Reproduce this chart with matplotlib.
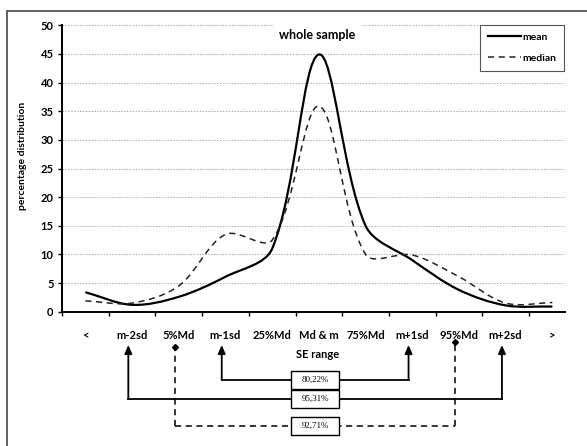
import matplotlib
matplotlib.use("Agg")
import matplotlib.pyplot as plt
import matplotlib.transforms as mtransforms
from matplotlib.path import Path
from matplotlib.patches import PathPatch, Rectangle
from matplotlib.lines import Line2D

# data -------------------------------------------------------
categories = ["<", "m-2sd", "5%Md", "m-1sd", "25%Md", "Md & m",
              "75%Md", "m+1sd", "95%Md", "m+2sd", ">"]
mean_vals = [3.4, 1.2, 2.6, 6.1, 11.0, 44.9, 15.0, 9.0, 3.8, 1.1, 0.9]
median_vals = [1.9, 1.5, 4.5, 13.5, 12.5, 35.9, 10.0, 9.9, 6.1, 1.5, 1.6]

# brackets: (left category, right category, label)
brackets = [("m-1sd", "m+1sd", "80,22%"),
            ("m-2sd", "m+2sd", "95,31%"),
            ("5%Md", "95%Md", "92,71%")]

W, H = 587, 446
plt.rcParams['font.family'] = ['Lato', 'DejaVu Sans']

# pixel size of one unit on each axis, used for the smoothing
SX, SY = 46.7, 5.73


def smooth_path(xs, ys):
    """Excel style smoothed line: bezier through every point, the handles
    shared out by the screen length of the two neighbouring segments"""
    n = len(xs)
    pts = [(x * SX, y * SY) for x, y in zip(xs, ys)]

    def dist(a, b):
        return ((a[0] - b[0]) ** 2 + (a[1] - b[1]) ** 2) ** 0.5

    before, after = [], []
    for i in range(n):
        p0 = pts[max(i - 1, 0)]
        p2 = pts[min(i + 1, n - 1)]
        d0 = dist(p0, pts[i])
        d2 = dist(pts[i], p2)
        tot = d0 + d2 if d0 + d2 > 0 else 1
        tx, ty = p2[0] - p0[0], p2[1] - p0[1]
        f = 1 / 3.0
        before.append((pts[i][0] - tx * f * d0 / tot, pts[i][1] - ty * f * d0 / tot))
        after.append((pts[i][0] + tx * f * d2 / tot, pts[i][1] + ty * f * d2 / tot))
    verts = [pts[0]]
    codes = [Path.MOVETO]
    for i in range(n - 1):
        verts += [after[i], before[i + 1], pts[i + 1]]
        codes += [Path.CURVE4] * 3
    verts = [(x / SX, y / SY) for x, y in verts]
    return Path(verts, codes)


def fy(ypix):
    return 1 - ypix / H


fig = plt.figure(figsize=(W / 100, H / 100), dpi=100)
ax = fig.add_axes([62 / W, fy(311.7), (565 - 62) / W, (311.7 - 25.3) / H])

xs = list(range(len(categories)))
ax.add_patch(PathPatch(smooth_path(xs, mean_vals), fc='none', ec='black', lw=1.6))
ax.add_patch(PathPatch(smooth_path(xs, median_vals), fc='none', ec='#222222',
                       lw=1.1, linestyle=(0, (4, 3))))

ax.set_xlim(-0.5, 10.27)
ax.set_ylim(0, 50)
ax.set_yticks(range(0, 51, 5))
ax.set_yticklabels([str(v) for v in range(0, 51, 5)], fontsize=8, fontweight='bold')
ax.set_xticks([i - 0.5 for i in range(11)])
ax.set_xticklabels([])
ax.set_xticks(xs, minor=True)
ax.set_xticklabels(categories, minor=True, fontsize=8, fontweight='bold')
ax.tick_params(axis='x', which='minor', length=0, pad=13)
ax.tick_params(axis='both', which='major', length=3, width=1, direction='out', pad=3)
ax.yaxis.grid(True, linestyle=(0, (1.5, 1.5)), color='#aaaaaa', lw=0.7)
ax.set_axisbelow(True)
for s in ['top', 'right']:
    ax.spines[s].set_visible(False)
for s in ['left', 'bottom']:
    ax.spines[s].set_linewidth(1.4)

ax.set_ylabel("percentage distribution", fontsize=7.5, fontweight='bold')
ax.yaxis.set_label_coords(27 / W, fy(156), transform=fig.transFigure)
fig.text(318 / W, fy(354), "SE range", ha='center', va='center', fontsize=8, fontweight='bold')
fig.text(317 / W, fy(35), "whole sample", ha='center', va='center', fontsize=9, fontweight='bold',
         bbox=dict(fc='white', ec='none', pad=4))

# legend
leg_lines = [Line2D([], [], color='black', lw=1.6),
             Line2D([], [], color='#222222', lw=1.1, linestyle=(0, (4, 3)))]
leg = ax.legend(leg_lines, ["mean", "median"], loc='upper right',
                bbox_to_anchor=(564 / W, fy(25)), bbox_transform=fig.transFigure,
                fancybox=False, edgecolor='#555555', framealpha=1,
                prop=dict(size=7.5, weight='bold'), handlelength=3.2,
                handletextpad=0.1, labelspacing=1.1, borderpad=0.75, borderaxespad=0)
leg.get_frame().set_linewidth(0.8)

# brackets below the axis --------------------------------------
blend = mtransforms.blended_transform_factory(ax.transData, fig.transFigure)
tip_y = {"m-1sd": 345, "m+1sd": 345, "m-2sd": 345, "m+2sd": 345, "5%Md": 347, "95%Md": 342}
line_y = [380, 399, 426]
for (lc, rc, lab), yl in zip(brackets, line_y):
    xl = categories.index(lc) - 0.08
    xr = categories.index(rc) - 0.08
    dashed = "%" in lc
    ls = (0, (4, 3)) if dashed else '-'
    lw = 1.1 if dashed else 1.3
    ax.add_line(Line2D([xl, xr], [fy(yl), fy(yl)], transform=blend, color='black',
                       lw=lw, linestyle=ls, clip_on=False))
    for xx, cat in [(xl, lc), (xr, rc)]:
        if dashed:
            ax.add_line(Line2D([xx, xx], [fy(yl), fy(tip_y[cat])], transform=blend,
                               color='black', lw=lw, linestyle=ls, clip_on=False))
            ax.add_line(Line2D([xx], [fy(tip_y[cat])], transform=blend, color='black',
                               marker='D', ms=3, clip_on=False))
        else:
            ax.annotate('', xy=(xx, fy(tip_y[cat])), xytext=(xx, fy(yl)),
                        xycoords=blend, textcoords=blend, annotation_clip=False,
                        arrowprops=dict(arrowstyle='-|>,head_length=0.5,head_width=0.22',
                                        color='black', lw=lw, shrinkA=0, shrinkB=0))
    xm = (xl + xr) / 2
    bw = 48 / SX
    ax.add_patch(Rectangle((xm - bw / 2, fy(yl + 9)), bw, 18 / H, transform=blend,
                           fc='white', ec='black', lw=1, clip_on=False, zorder=5))
    ax.text(xm, fy(yl), lab, transform=blend, ha='center', va='center', fontsize=6.5,
            family='Liberation Serif', zorder=6)

# outer frame (only left and top edges are in the picture)
fig.patches.append(Rectangle((7 / W, -0.05), 1.1, fy(11) + 0.05, transform=fig.transFigure,
                             fill=False, ec='#555555', lw=1.3))

fig.savefig("out.png", dpi=100)
